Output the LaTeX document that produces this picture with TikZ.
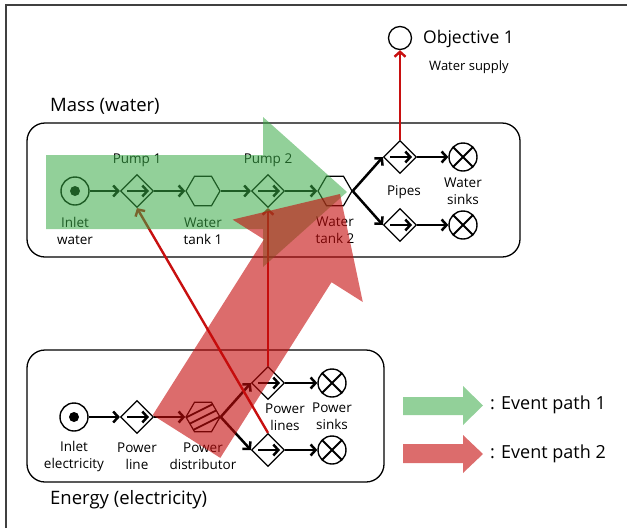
\documentclass[tikz,border=0pt]{standalone}
\usepackage{fontspec}
\setmainfont{Open Sans}
\usetikzlibrary{arrows.meta,shapes.geometric}

\definecolor{flowgreen}{RGB}{56,169,69}
\definecolor{flowred}{RGB}{197,10,10}
\definecolor{legendgreen}{RGB}{146,208,153}
\definecolor{legendred}{RGB}{220,108,108}
\definecolor{linkred}{RGB}{200,16,16}

\begin{document}
\begin{tikzpicture}[x=1pt,y=-1pt,
  lbl/.style={font=\fontsize{13.5}{17}\selectfont, align=center, inner sep=0pt},
  title/.style={font=\fontsize{18.5}{22}\selectfont, anchor=west, inner sep=0pt},
  flow/.style={line width=2.5pt, -{Straight Barb[length=5pt,width=11pt]}},
  link/.style={linkred, line width=2.4pt, -{Straight Barb[length=5pt,width=11pt]}},
  container/.style={draw, line width=1.3pt, rounded corners=18pt},
  valve/.style={diamond, draw, line width=1.2pt, minimum width=33pt, minimum height=33pt, inner sep=0pt,
    path picture={\draw[flow] ([xshift=-10pt]path picture bounding box.center) -- ([xshift=12pt]path picture bounding box.center);}},
  tank/.style={regular polygon, regular polygon sides=6, draw, line width=1.2pt, minimum size=34pt, inner sep=0pt},
  hatched/.style={tank, path picture={
      \foreach \o in {-8,0,8}
        \draw[line width=1.8pt] ([shift={(-20,10+\o)}]path picture bounding box.center) -- ([shift={(20,-10+\o)}]path picture bounding box.center);}},
  source/.style={circle, draw, line width=1.4pt, minimum size=28pt, inner sep=0pt,
    path picture={\fill (path picture bounding box.center) circle (5pt);}},
  sink/.style={circle, draw, line width=1.4pt, minimum size=28pt, inner sep=0pt,
    path picture={\draw[line width=1.8pt] (path picture bounding box.south west) -- (path picture bounding box.north east)
      (path picture bounding box.north west) -- (path picture bounding box.south east);}},
  goal/.style={circle, draw, line width=1.3pt, minimum size=23pt, inner sep=0pt}
]
\useasboundingbox (0,0) rectangle (627,528);

% outer frame (top and left edges)
\draw[black!75, line width=2pt] (6,528) -- (6,5) -- (627,5);

% containers
\draw[container] (27,123) rectangle (520,257);
\draw[container] (27,350) rectangle (384,482);
\node[title] (massT) at (50,106) {Mass (water)};
\node[title] (energyT) at (50,500) {Energy (electricity)};

% objective
\node[goal] (obj) at (400,38) {};
\node[font=\fontsize{17.5}{20}\selectfont, anchor=west, inner sep=0pt] (objT) at (423,39) {Objective 1};
\node[font=\fontsize{13}{16}\selectfont, inner sep=0pt] (objS) at (469,67) {Water supply};

% water flow
\node[source] (inW) at (75,191) {};
\node[valve] (pump1) at (137,191) {};
\node[tank] (tank1) at (203,191) {};
\node[valve] (pump2) at (268,191) {};
\node[tank] (tank2) at (335,191) {};
\node[valve] (pipeA) at (400,157) {};
\node[valve] (pipeB) at (400,225) {};
\node[sink] (wsA) at (463,157) {};
\node[sink] (wsB) at (463,225) {};

\node[lbl] (l1) at (137,160) {Pump 1};
\node[lbl] (l2) at (268,160) {Pump 2};
\node[lbl] (l3) at (75,231) {Inlet\\water};
\node[lbl] (l4) at (203,231) {Water\\tank 1};
\node[lbl] (l5) at (335,230) {Water\\tank 2};
\node[lbl] (l6) at (404,192) {Pipes};
\node[lbl] (l7) at (463,191) {Water\\sinks};

\draw[flow] (inW) -- (pump1.west);
\draw[flow] (pump1.east) -- (tank1.west);
\draw[flow] (tank1.east) -- (pump2.west);
\draw[flow] (pump2.east) -- (tank2.west);
\draw[flow] (tank2.east) -- (pipeA.west);
\draw[flow] (tank2.east) -- (pipeB.west);
\draw[flow] (pipeA.east) -- (wsA.west);
\draw[flow] (pipeB.east) -- (wsB.west);

% electricity flow
\node[source] (inE) at (74,417) {};
\node[valve] (pline) at (137,417) {};
\node[hatched] (dist) at (203,417) {};
\node[valve] (plA) at (268,383) {};
\node[valve] (plB) at (268,450) {};
\node[sink] (psA) at (332,383) {};
\node[sink] (psB) at (332,450) {};

\node[lbl] (e1) at (74,456) {Inlet\\electricity};
\node[lbl] (e2) at (137,456) {Power\\line};
\node[lbl] (e3) at (203,456) {Power\\distributor};
\node[lbl] (e4) at (285,417) {Power\\lines};
\node[lbl] (e5) at (332,416) {Power\\sinks};

\draw[flow] (inE) -- (pline.west);
\draw[flow] (pline.east) -- (dist.west);
\draw[flow] (dist.east) -- (plA.west);
\draw[flow] (dist.east) -- (plB.west);
\draw[flow] (plA.east) -- (psA.west);
\draw[flow] (plB.east) -- (psB.west);

% dependency links
\draw[link] (plB.north) -- (pump1.south);
\draw[link] (plA.north) -- (pump2.south);
\draw[link] (pipeA.north) -- (obj.south);

% event paths
\fill[flowgreen, fill opacity=0.55] (46,155) -- (263,155) -- (263,117) -- (347,192) -- (263,267) -- (263,229) -- (46,229) -- cycle;
\fill[flowred, fill opacity=0.6] (152.7,415.1) -- (263.9,239.4) -- (232.6,219.6) -- (340,194) -- (362.8,302) -- (331.5,282.2) -- (220.3,457.9) -- cycle;

% legend
\fill[legendgreen] (403,397) -- (463,397) -- (463,386) -- (483,405.5) -- (463,425) -- (463,415) -- (403,415) -- cycle;
\fill[legendred] (403,444) -- (463,444) -- (463,435) -- (483,454) -- (463,473) -- (463,463) -- (403,463) -- cycle;
\node[font=\fontsize{18}{20}\selectfont, anchor=west, inner sep=0pt] (leg1) at (490,405) {: Event path 1};
\node[font=\fontsize{18}{20}\selectfont, anchor=west, inner sep=0pt] (leg2) at (490,454) {: Event path 2};
\end{tikzpicture}
\end{document}
